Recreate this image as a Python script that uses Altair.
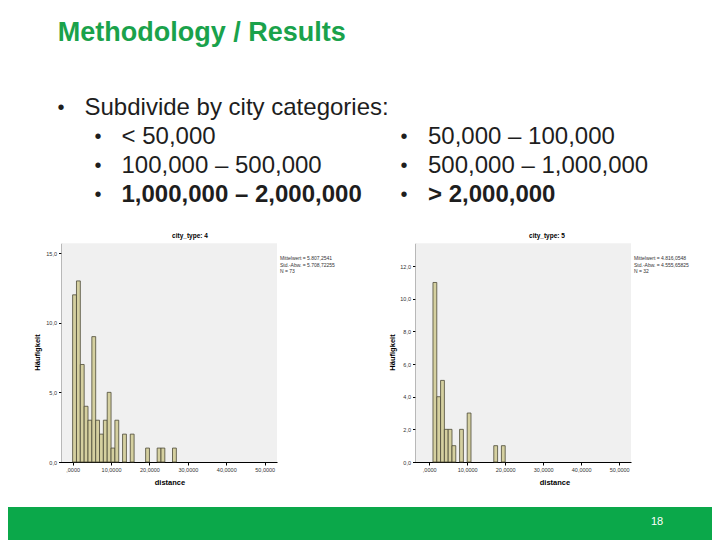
import altair as alt
import pandas as pd

W, H = 704, 532

# ---------------- slide texts ----------------
title_text = "Methodology / Results"
bullet_main = "Subdivide by city categories:"
left_items = ["< 50,000", "100,000 – 500,000", "1,000,000 – 2,000,000"]
right_items = ["50,000 – 100,000", "500,000 – 1,000,000", "> 2,000,000"]
item_bold = [False, False, True]
page_number = "18"

# ---------------- histogram data ----------------
bin_width = 1000
left_counts = [12, 13, 7, 4, 3, 9, 3, 2, 3, 5, 1, 3, 0, 2, 0, 2, 0, 0, 0, 1, 0, 0, 1, 1, 0, 0, 1]
right_counts = [0, 11, 4, 5, 2, 2, 1, 0, 2, 0, 3, 0, 0, 0, 0, 0, 0, 1, 0, 1]

x_ticks = [0, 10000, 20000, 30000, 40000, 50000]
x_tick_labels = [",0000", "10,0000", "20,0000", "30,0000", "40,0000", "50,0000"]
left_y_ticks = [0, 5, 10, 15]
right_y_ticks = [0, 2, 4, 6, 8, 10, 12]

left_title = "city_type: 4"
right_title = "city_type: 5"
y_title = "Häufigkeit"
x_title = "distance"
left_stats = ["Mittelwert = 5.807,2541", "Std.-Abw. = 5.708,72255", "N = 73"]
right_stats = ["Mittelwert = 4.816,0548", "Std.-Abw. = 4.555,65825", "N = 32"]

FONT = "Liberation Sans"
GREEN_TITLE = "#1AA24B"
GREEN_BAR = "#0BA84A"
TEXT = "#1E1E1E"

one = pd.DataFrame({"k": [0]})


def txt(s, x, y, size, color=TEXT, bold=False, align="left", baseline="alphabetic", angle=0):
    return alt.Chart(one).mark_text(
        text=s, fontSize=size, color=color, font=FONT,
        fontWeight="bold" if bold else "normal",
        align=align, baseline=baseline, angle=angle,
    ).encode(x=alt.value(x), y=alt.value(y))


def x_label_expr():
    expr = "''"
    for v, lab in reversed(list(zip(x_ticks, x_tick_labels))):
        expr = f"datum.value == {v} ? '{lab}' : ({expr})"
    return expr


def hist(counts, x_dom, y_dom, x_rng, y_rng, y_ticks):
    starts = [i * bin_width for i in range(len(counts))]
    df = pd.DataFrame({"start": starts, "count": counts})
    df["end"] = df["start"] + bin_width
    df["zero"] = 0
    df = df[df["count"] > 0]
    xs = alt.Scale(domain=x_dom, range=x_rng, nice=False, zero=False)
    ys = alt.Scale(domain=y_dom, range=y_rng, nice=False, zero=False)
    xaxis = alt.Axis(
        values=x_ticks, labelExpr=x_label_expr(), title=None, grid=False,
        orient="bottom", offset=y_rng[0] - H, domainColor="#000000", domainWidth=1,
        tickColor="#000000", tickSize=3, labelFontSize=5.5, labelColor="#333333",
        labelFont=FONT, labelPadding=2, labelFlush=False, labelOverlap=False,
    )
    yaxis = alt.Axis(
        values=y_ticks, labelExpr="replace(format(datum.value, '.1f'), '.', ',')",
        title=None, grid=False, orient="left", offset=-x_rng[0],
        domainColor="#000000", domainWidth=1, tickColor="#000000", tickSize=3,
        labelFontSize=5.5, labelColor="#333333", labelFont=FONT, labelPadding=2,
        labelFlush=False, labelOverlap=False,
    )
    bg_df = pd.DataFrame({"x0": [x_dom[0]], "x1": [x_dom[1]], "y0": [y_dom[0]], "y1": [y_dom[1]]})
    bg = alt.Chart(bg_df).mark_rect(color="#F0F0F0").encode(
        x=alt.X("x0:Q", scale=xs, axis=xaxis), x2="x1:Q",
        y=alt.Y("y0:Q", scale=ys, axis=yaxis), y2="y1:Q",
    )
    bars = alt.Chart(df).mark_rect(fill="#D5D0A0", stroke="#4B4936", strokeWidth=0.8).encode(
        x=alt.X("start:Q", scale=xs, axis=xaxis), x2="end:Q",
        y=alt.Y("count:Q", scale=ys, axis=yaxis), y2="zero:Q",
    )
    return alt.layer(bg, bars)


left_hist = hist(left_counts, [-2900, 53200], [0, 15.7], [53.5, 269], [454, 235.3], left_y_ticks)
right_hist = hist(right_counts, [-3600, 53100], [0, 13.4], [407.5, 623], [454, 235.3], right_y_ticks)

layers = []

# footer
footer = alt.Chart(one).mark_rect(color=GREEN_BAR).encode(
    x=alt.value(-10), x2=alt.value(W + 10), y=alt.value(499), y2=alt.value(H + 10)
)
layers.append(footer)
layers.append(txt(page_number, 649, 514, 11, color="#FFFFFF", align="center", baseline="middle"))

# title + bullets
layers.append(txt(title_text, 49.7, 33, 27, color=GREEN_TITLE, bold=True))
layers.append(txt("•", 53, 106, 20, align="center"))
layers.append(txt(bullet_main, 76.5, 107, 24))
row_base = [135.5, 164.5, 193.5]
for i in range(3):
    layers.append(txt("•", 90, row_base[i] - 1, 20, align="center"))
    layers.append(txt(left_items[i], 113.5, row_base[i], 24, bold=item_bold[i]))
    layers.append(txt("•", 396, row_base[i] - 1, 20, align="center"))
    layers.append(txt(right_items[i], 420, row_base[i], 24, bold=item_bold[i]))

# chart annotations
layers.append(txt(left_title, 182, 228, 6.5, color="#000000", bold=True, align="center", baseline="middle"))
layers.append(txt(right_title, 539, 228, 6.5, color="#000000", bold=True, align="center", baseline="middle"))
layers.append(txt(y_title, 30, 344.5, 7.5, color="#000000", bold=True, align="center", baseline="middle", angle=270))
layers.append(txt(y_title, 385, 344.5, 7.5, color="#000000", bold=True, align="center", baseline="middle", angle=270))
layers.append(txt(x_title, 162, 475, 7.5, color="#000000", bold=True, align="center", baseline="middle"))
layers.append(txt(x_title, 547, 475, 7.5, color="#000000", bold=True, align="center", baseline="middle"))
for j, s in enumerate(left_stats):
    layers.append(txt(s, 272, 250 + 6.5 * j, 5, color="#333333", baseline="middle"))
for j, s in enumerate(right_stats):
    layers.append(txt(s, 626, 250 + 6.5 * j, 5, color="#333333", baseline="middle"))

layers.append(left_hist)
layers.append(right_hist)

chart = alt.layer(*layers).resolve_scale(x="independent", y="independent").properties(
    width=W, height=H, padding=0,
    autosize=alt.AutoSizeParams(type="none"),
    background="#FFFFFF",
).configure_view(strokeWidth=0)

chart.save("out.html", embed_options={"renderer": "svg", "actions": False})
